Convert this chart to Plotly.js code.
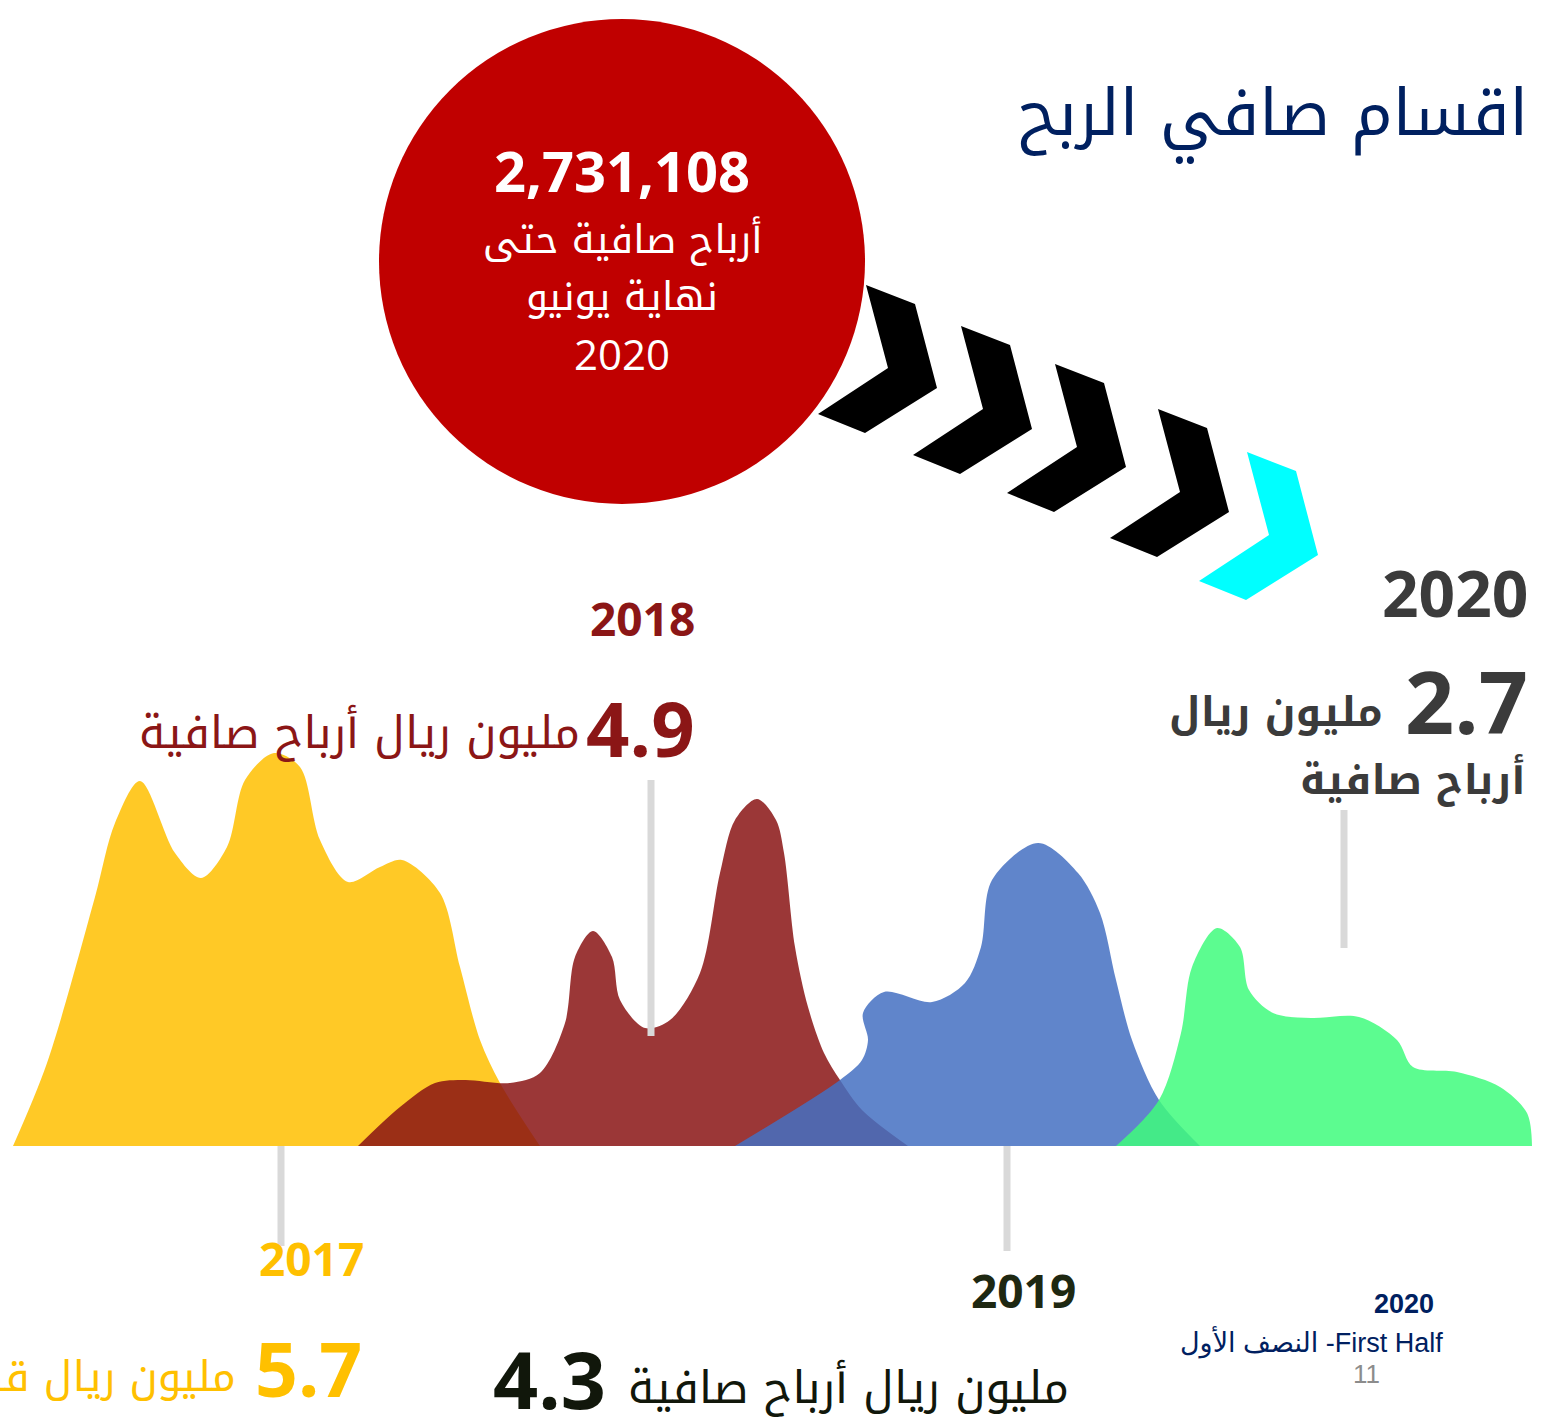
<!DOCTYPE html>
<html>
<head>
<meta charset="utf-8">
<script src="https://cdn.plot.ly/plotly-3.0.1.min.js"></script>
<style>html,body{margin:0;padding:0;background:#fff;}#chart{width:1547px;height:1420px;}</style>
</head>
<body>
<div id="chart"></div>
<script>
// ---- data ----
const years = ['2017', '2018', '2019', '2020'];
const profits = [5.7, 4.9, 4.3, 2.7];            // million riyal net profit
const totalToJune2020 = '2,731,108';
const pageTitle = 'اقسام صافي الربح';
const unitText = 'مليون ريال أرباح صافية';

// decorative ridge profiles of each year's "mountain"
const ridge2017X = [13, 47, 95, 115, 140, 175, 201, 227, 245, 274, 300, 320, 348, 380, 402, 440, 460, 480, 500, 540];
const ridge2017Y = [1146, 1063, 897, 823, 781, 853, 878, 847, 780, 753, 767, 840, 882, 867, 860, 893, 967, 1040, 1083, 1146];
const ridge2018X = [358, 400, 435, 465, 510, 540, 565, 575, 593, 612, 620, 645, 670, 700, 720, 735, 757, 776, 784, 795, 808, 824, 840, 862, 908];
const ridge2018Y = [1146, 1107, 1083, 1080, 1083, 1073, 1023, 957, 931, 957, 1000, 1028, 1020, 973, 873, 820, 799, 820, 853, 947, 1007, 1053, 1080, 1110, 1146];
const ridge2019X = [735, 840, 862, 868, 863, 884, 932, 965, 981, 992, 1038, 1078, 1100, 1116, 1132, 1159, 1200];
const ridge2019Y = [1146, 1080, 1060, 1040, 1013, 992, 1002, 983, 947, 880, 843, 873, 913, 980, 1040, 1100, 1146];
const ridge2020X = [1116, 1159, 1181, 1192, 1217, 1240, 1249, 1273, 1311, 1359, 1397, 1413, 1457, 1500, 1527, 1532];
const ridge2020Y = [1146, 1100, 1033, 967, 928, 947, 990, 1013, 1018, 1017, 1040, 1067, 1072, 1087, 1113, 1146];

// ---- styles ----
const yearColors = ['rgba(255,192,0,0.85)', 'rgba(138,20,20,0.85)', 'rgba(68,112,194,0.85)', 'rgba(64,252,124,0.85)'];
const labelColors = ['#ffc000', '#8b1616', '#1e2812', '#3b3b3b'];
const ridgesX = [ridge2017X, ridge2018X, ridge2019X, ridge2020X];
const ridgesY = [ridge2017Y, ridge2018Y, ridge2019Y, ridge2020Y];

const AR = 'Noto Kufi Arabic, Noto Sans Arabic, Open Sans, DejaVu Sans, sans-serif';
const NUM = 'Open Sans, Noto Sans, DejaVu Sans, sans-serif';

const traces = years.map((y, i) => ({
  type: 'scatter', mode: 'lines', x: ridgesX[i], y: ridgesY[i],
  line: {shape: 'spline', smoothing: 0.9, width: 0, color: yearColors[i]},
  fill: 'toself', fillcolor: yearColors[i], hoverinfo: 'skip', showlegend: false, name: y
}));

// chevrons
const chevron = [[0,0],[49,19],[71,103],[-1,148],[-48,129],[22,83]];
const chevronAnchors = [[866,285],[961,326],[1055,364],[1158,409],[1247,452]];
const chevronColors = ['#000000','#000000','#000000','#000000','#00ffff'];
const shapes = [
  {type: 'circle', xref: 'x', yref: 'y', x0: 379, x1: 865, y0: 19, y1: 504, fillcolor: '#c00000', line: {width: 0}, layer: 'below'}
];
chevronAnchors.forEach((a, i) => {
  const p = chevron.map((v, k) => (k ? 'L' : 'M') + (a[0] + v[0]) + ',' + (a[1] + v[1])).join(' ') + ' Z';
  shapes.push({type: 'path', xref: 'x', yref: 'y', path: p, fillcolor: chevronColors[i], line: {width: 0}, layer: 'below'});
});
// leader lines
const leaders = [[281,1146,1246],[651,780,1036],[1007,1146,1251],[1344,810,948]];
leaders.forEach(l => shapes.push({type: 'line', xref: 'x', yref: 'y', x0: l[0], x1: l[0], y0: l[1], y1: l[2], line: {color: '#d9d9d9', width: 7}, layer: 'above'}));

function ann(text, x, y, size, color, family, xanchor, bold) {
  return {text: bold ? '<b>' + text + '</b>' : text, x: x, y: y, xref: 'x', yref: 'y', showarrow: false,
    xanchor: xanchor || 'center', yanchor: 'middle', font: {size: size, color: color, family: family}};
}
const annotations = [
  ann(pageTitle, 1530, 113, 64, '#002060', AR, 'right', false),
  ann(totalToJune2020, 622, 170, 56, '#ffffff', NUM, 'center', true),
  ann('أرباح صافية حتى', 622, 240, 39, '#ffffff', AR, 'center', false),
  ann('نهاية يونيو', 622, 297, 39, '#ffffff', AR, 'center', false),
  ann('2020', 622, 353, 42, '#ffffff', NUM, 'center', false),
  // 2020
  ann(years[3], 1530, 592, 64, labelColors[3], NUM, 'right', true),
  ann(profits[3].toFixed(1), 1530, 700, 86, labelColors[3], NUM, 'right', true),
  ann('مليون ريال', 1385, 712, 41, labelColors[3], AR, 'right', true),
  ann('أرباح صافية', 1528, 780, 41, labelColors[3], AR, 'right', true),
  // 2018
  ann(years[1], 642, 618, 46, labelColors[1], NUM, 'center', true),
  ann(profits[1].toFixed(1), 697, 727, 76, labelColors[1], NUM, 'right', true),
  ann(unitText, 582, 733, 45, labelColors[1], AR, 'right', false),
  // 2017
  ann(years[0], 311, 1258, 46, labelColors[0], NUM, 'center', true),
  ann(profits[0].toFixed(1), 364, 1368, 75, labelColors[0], NUM, 'right', true),
  ann('مليون ريال قطري أرباح صافية', 238, 1377, 42, labelColors[0], AR, 'right', false),
  // 2019
  ann(years[2], 1023, 1290, 46, labelColors[2], NUM, 'center', true),
  ann(profits[2].toFixed(1), 608, 1378, 79, '#11170b', NUM, 'right', true),
  ann(unitText, 626, 1388, 45, '#11170b', AR, 'left', false),
  // footer
  ann('2020', 1404, 1304, 27, '#002060', 'Liberation Sans, Arial, sans-serif', 'center', true),
  ann('النصف الأول -First Half', 1311, 1342, 27, '#002060', 'Liberation Sans, DejaVu Sans, sans-serif', 'center', false),
  ann('11', 1366, 1374, 26, '#8c8c8c', 'Liberation Sans, Arial, sans-serif', 'center', false)
];

const layout = {
  width: 1547, height: 1420, margin: {l: 0, r: 0, t: 0, b: 0},
  paper_bgcolor: '#ffffff', plot_bgcolor: '#ffffff',
  xaxis: {range: [0, 1547], visible: false, fixedrange: true},
  yaxis: {range: [1420, 0], visible: false, fixedrange: true},
  shapes: shapes, annotations: annotations, showlegend: false
};
Plotly.newPlot('chart', traces, layout, {displayModeBar: false, staticPlot: true});
</script>
</body>
</html>
